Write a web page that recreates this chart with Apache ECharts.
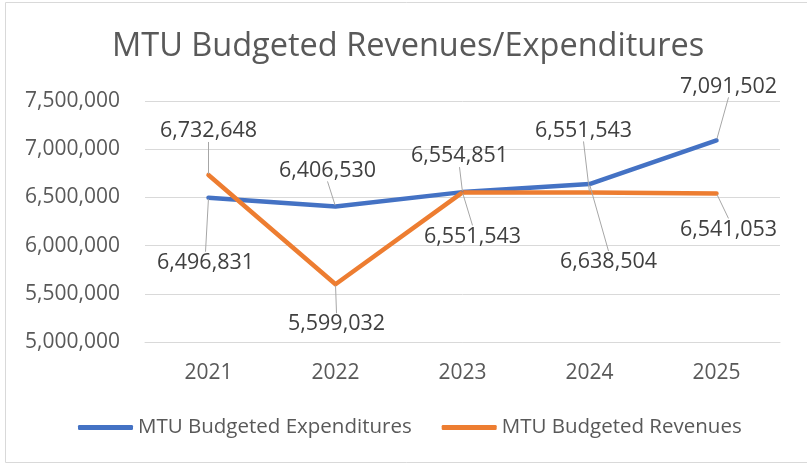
<!DOCTYPE html>
<html>
<head>
<meta charset="utf-8">
<script src="https://cdn.jsdelivr.net/npm/echarts@6/dist/echarts.min.js"></script>
<style>
  html, body { margin: 0; padding: 0; background: #fff; }
  #chart { width: 807px; height: 464px; }
</style>
</head>
<body>
<div id="chart"></div>
<script>
const years = ["2021", "2022", "2023", "2024", "2025"];
const expenditures = [6496831, 6406530, 6554851, 6638504, 7091502];
const revenues = [6732648, 5599032, 6551543, 6551543, 6541053];

// label offsets from each point, in px (Excel placed these by hand)
const expLabelShift = [[-3, 65], [-8, -36], [-3, -36], [19, 78], [12, -54]];
const revLabelShift = [[0, -44], [1, 40], [10, 44], [-6, -62], [12, 36]];

const fmt = v => Number(v).toLocaleString("en-US");
const font = '"Open Sans", "DejaVu Sans", sans-serif';

const chart = echarts.init(document.getElementById("chart"));

function lineSeries(name, data, color, shifts) {
  return {
    name: name,
    type: "line",
    data: data,
    symbol: "circle",
    symbolSize: 2,
    showSymbol: true,
    itemStyle: { color: color },
    lineStyle: { color: color, width: 4.5, cap: "round", join: "round" },
    label: {
      show: true,
      position: "inside",
      formatter: p => fmt(p.value),
      color: "#404040",
      fontFamily: font,
      fontSize: 21.5,
      padding: [6, 4]
    },
    labelLine: { show: true, lineStyle: { color: "#a6a6a6", width: 1 } },
    labelLayout: p => ({ dx: shifts[p.dataIndex][0], dy: shifts[p.dataIndex][1] }),
    emphasis: { disabled: true }
  };
}

chart.setOption({
  animation: false,
  title: {
    text: "MTU Budgeted Revenues/Expenditures",
    left: 107,
    top: 25,
    textStyle: { color: "#595959", fontFamily: font, fontSize: 32.5, fontWeight: "normal" }
  },
  graphic: [{
    type: "rect",
    shape: { x: 5.5, y: 2.5, width: 820, height: 460 },
    style: { fill: null, stroke: "#d9d9d9", lineWidth: 1 },
    silent: true
  }],
  grid: { left: 145, right: 27, top: 101, bottom: 122 },
  xAxis: {
    type: "category",
    data: years,
    boundaryGap: true,
    axisLine: { lineStyle: { color: "#d9d9d9" } },
    axisTick: { show: false },
    axisLabel: { color: "#595959", fontFamily: font, fontSize: 21, margin: 21 }
  },
  yAxis: {
    type: "value",
    min: 5000000,
    max: 7500000,
    interval: 500000,
    axisLine: { show: false },
    axisTick: { show: false },
    splitLine: { lineStyle: { color: "#d9d9d9", width: 1 } },
    axisLabel: { color: "#595959", fontFamily: font, fontSize: 21, margin: 25, formatter: fmt }
  },
  legend: {
    bottom: 21,
    left: 73,
    itemGap: 30,
    itemWidth: 55,
    itemHeight: 5,
    icon: "roundRect",
    textStyle: { color: "#595959", fontFamily: font, fontSize: 20.5 },
    data: ["MTU Budgeted Expenditures", "MTU Budgeted Revenues"]
  },
  series: [
    lineSeries("MTU Budgeted Expenditures", expenditures, "#4472c4", expLabelShift),
    lineSeries("MTU Budgeted Revenues", revenues, "#ed7d31", revLabelShift)
  ]
});
</script>
</body>
</html>
